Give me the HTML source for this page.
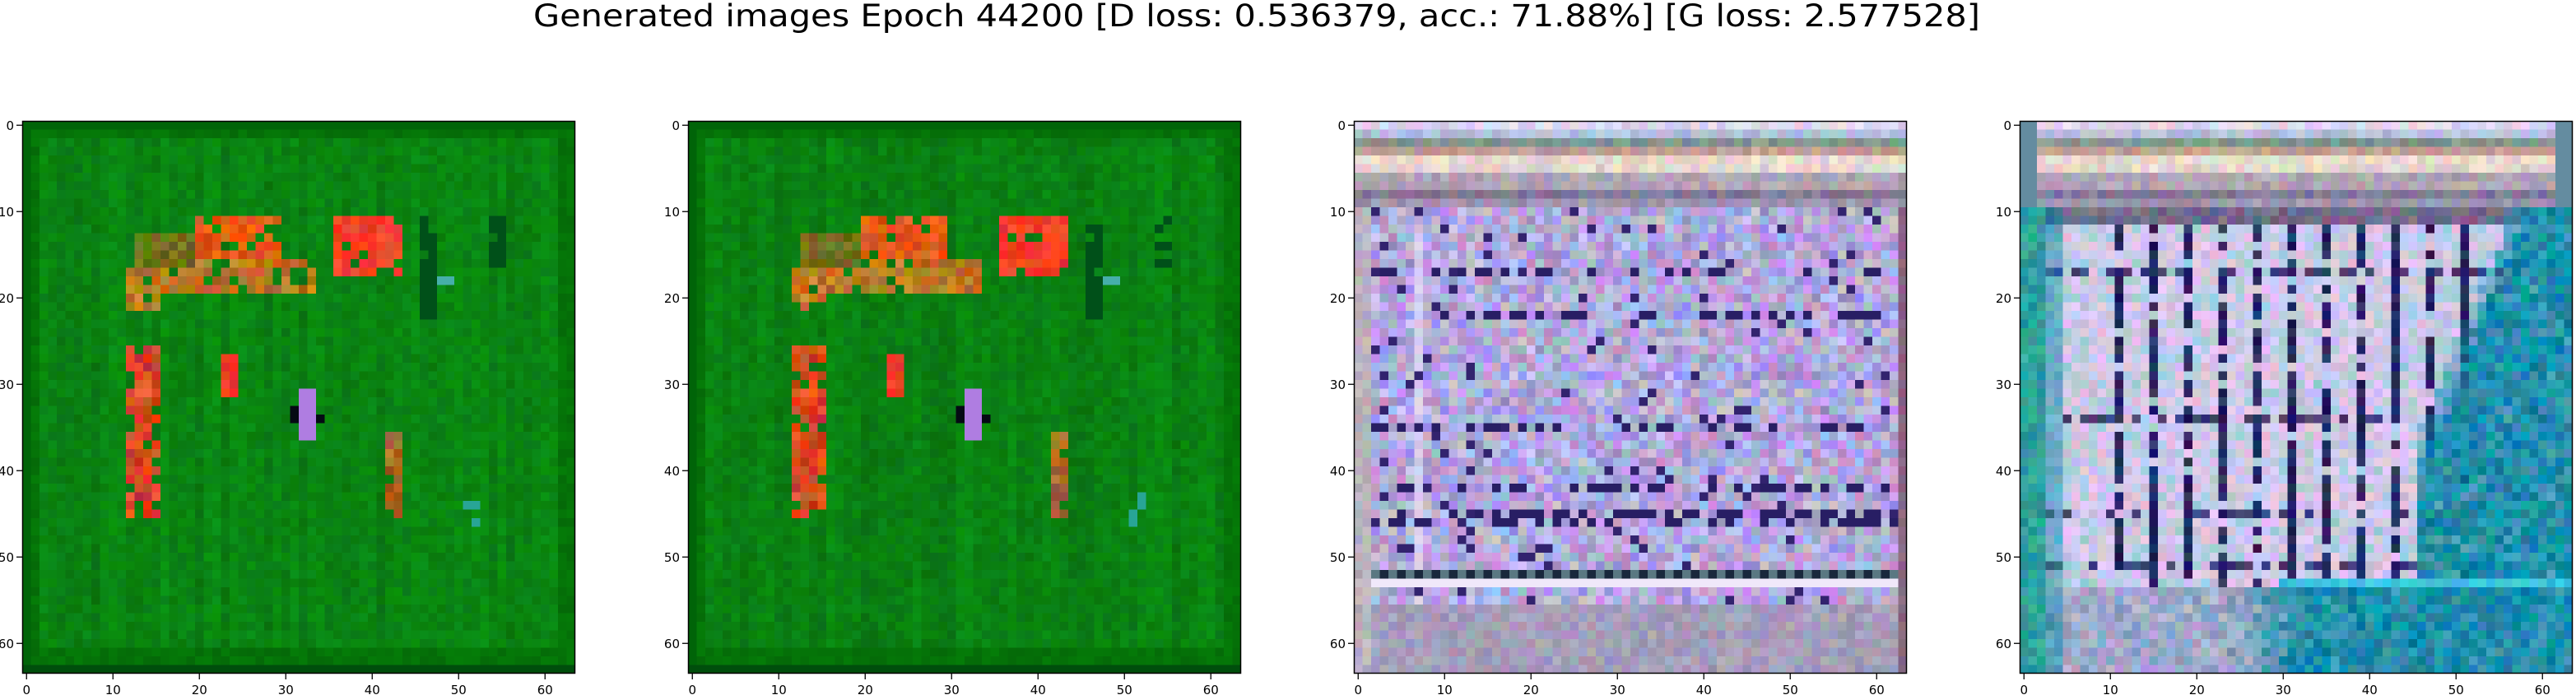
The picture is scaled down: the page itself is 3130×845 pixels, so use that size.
<!DOCTYPE html>
<html><head><meta charset="utf-8">
<style>
html,body{margin:0;padding:0;background:#fff;width:3130px;height:845px;overflow:hidden}
#wrap{position:relative;width:3130px;height:845px}
canvas{position:absolute;image-rendering:pixelated}
svg{position:absolute;left:0;top:0}
text{font-family:"DejaVu Sans","Liberation Sans",sans-serif;fill:#000}
</style></head>
<body>
<div id="wrap">
<canvas id="c0" width="64" height="64" style="left:27px;top:147px;width:672px;height:672px"></canvas>
<canvas id="c1" width="64" height="64" style="left:836px;top:147px;width:672px;height:672px"></canvas>
<canvas id="c2" width="64" height="64" style="left:1645px;top:147px;width:672px;height:672px"></canvas>
<canvas id="c3" width="64" height="64" style="left:2454px;top:147px;width:672px;height:672px"></canvas>
<svg id="ov" width="3130" height="845">
<text x="1527" y="32" font-size="37" text-anchor="middle" textLength="1758" lengthAdjust="spacingAndGlyphs">Generated images Epoch 44200 [D loss: 0.536379, acc.: 71.88%] [G loss: 2.577528]</text>
</svg>
</div>
<script>
const panelLefts = [27, 836, 1645, 2454];
const tickValues = [0, 10, 20, 30, 40, 50, 60];
const imgSize = 64;
const TOP = 147, SIZE = 672, CELL = SIZE / imgSize;

function h(x, y, k) {
  let n = (x * 374761393 + y * 668265263 + k * 2147483647) | 0;
  n = (n ^ (n >>> 13)) * 1274126177 | 0;
  n = n ^ (n >>> 16);
  return ((n >>> 0) % 1000) / 500 - 1;
}
function inR(r, c, r0, r1, c0, c1) { return r >= r0 && r <= r1 && c >= c0 && c <= c1; }
function vary(col, r, c, k, amt) {
  return [col[0] + h(r, c, k) * amt, col[1] + h(r, c, k + 1) * amt, col[2] + h(r, c, k + 2) * amt];
}
function mix(a, b, t) { return [a[0] + (b[0] - a[0]) * t, a[1] + (b[1] - a[1]) * t, a[2] + (b[2] - a[2]) * t]; }

function greenPanel(r, c, v) {
  const colStreak = h(0, c, v + 20) * 10;
  let base = [10, 130 + colStreak + h(r, c, v) * 12, 18 + h(r, c, v + 5) * 10];
  if (r <= 1 || r >= 61 || c <= 1 || c >= 62) base = [5, 115 + h(r, c, v) * 10, 8];
  if (r === 0 || c === 0) base = [0, 100, 8];
  if (r === 63) base = [0, 78, 12];
  const fuzz = h(r, c, v + 30) > -0.75;
  if (fuzz && inR(r, c, 11, 17, 20, 29)) base = vary([232, 92, 22], r, c, v + 9, 30);
  if (fuzz && inR(r, c, 11, 17, 36, 43)) base = vary([245, 62, 40], r, c, v + 9, 25);
  if (fuzz && (inR(r, c, 17, 21, 12, 15) || inR(r, c, 16, 19, 16, 33))) base = vary([190, 120, 35], r, c, v + 9, 35);
  if (inR(r, c, 13, 16, 13, 19)) base = vary([110, 110, 25], r, c, v + 9, 30);
  if (fuzz && inR(r, c, 26, 45, 12, 15)) base = vary([215, 70, 35], r, c, v + 9, 35);
  if (inR(r, c, 27, 31, 23, 24)) base = vary([240, 55, 35], r, c, v + 9, 20);
  if (inR(r, c, 31, 36, 32, 33)) base = [175, 125, 225];
  if (inR(r, c, 33, 34, 31, 31) || inR(r, c, 34, 34, 34, 34)) base = [5, 10, 20];
  if (fuzz && inR(r, c, 36, 45, 42, 43)) base = vary([170, 105, 40], r, c, v + 9, 30);
  if (inR(r, c, 18, 18, 48, 49)) base = [70, 175, 170];
  if (inR(r, c, 43, 46, 51, 52) && h(r, c, v + 31) > 0) base = [40, 165, 150];
  if ((inR(r, c, 11, 22, 46, 47) || inR(r, c, 11, 16, 54, 55)) && h(r, c, v + 32) > -0.4) base = [0, 80, 25];
  return base;
}
function topRows(r, c, v) {
  const rows = [[225,215,240],[180,190,220],[130,150,140],[195,160,150],[232,220,205],[228,215,205],[175,165,180],[180,165,180],[130,120,150],[160,150,175]];
  return vary(rows[r], r, c, v, 22);
}
function lavPanel(r, c) {
  if (r <= 9) return topRows(r, c, 30);
  let base = vary([178, 168, 220], r, c, 40, 38);
  if (c <= 1) base = vary([185, 178, 190], r, c, 41, 20);
  else if (c === 63) base = vary([140, 100, 130], r, c, 42, 15);
  else if (r >= 56) base = vary([165, 158, 185], r, c, 43, 20);
  else if (r === 53) base = [240, 232, 250];
  else if (r === 52) base = (c % 2) ? [25, 40, 60] : [90, 120, 130];
  else if ((r === 17 || r === 22 || r === 35 || r === 45 || r === 46 || r === 42) && h(r, c, 45) > 0.3) base = [40, 30, 100];
  else if (h(r, c, 44) > 0.93) base = [50, 35, 110];
  else if (c === 7 && r > 12) base = vary([215, 205, 240], r, c, 46, 15);
  return base;
}
function tealPanel(r, c) {
  if (r <= 9) {
    let t = topRows(r, c, 60);
    if (c <= 1 || c >= 62) t = [100, 140, 160];
    return t;
  }
  const teal = vary([20, 140, 168], r, c, 62, 30);
  if (c <= 2) return vary([45, 160, 155], r, c, 61, 25);
  let lav = vary([215, 208, 235], r, c, 68, 28);
  if (r === 10 || r === 11) lav = vary([120, 105, 135], r, c, 64, 25);
  else if (r >= 54) lav = vary([170, 170, 205], r, c, 63, 28);
  else if (c >= 11 && c <= 51 && c % 4 === 3 && h(r, c, 65) > -0.6) lav = vary([40, 32, 90], r, c, 66, 25);
  else if ((r === 17 || r === 34 || r === 45 || r === 51) && h(r, c, 66) > 0.1) lav = vary([70, 60, 115], r, c, 67, 25);
  if (c === 3 || c === 4) lav = mix(lav, teal, 0.5);
  let t = 0;
  const edge = 22 - (c - 52) * 1.3;
  if (c >= 46) t = Math.max(t, Math.min(1, (r - edge) / 8 + (c - 49) / 7));
  if (r >= 54) t = Math.max(t, Math.min(1, (c - 24) / 8));
  t = Math.max(0, Math.min(1, t + h(r, c, 69) * 0.3));
  if (r === 53 && c >= 30) return vary([60, 195, 225], r, c, 70, 20);
  return mix(lav, teal, t);
}

const fns = [
  (r, c) => greenPanel(r, c, 1),
  (r, c) => greenPanel(r, c, 2),
  lavPanel,
  tealPanel
];
fns.forEach((fn, i) => {
  const ctx = document.getElementById('c' + i).getContext('2d');
  const im = ctx.createImageData(imgSize, imgSize);
  for (let r = 0; r < imgSize; r++) for (let c = 0; c < imgSize; c++) {
    const col = fn(r, c), o = (r * imgSize + c) * 4;
    im.data[o] = col[0]; im.data[o + 1] = col[1]; im.data[o + 2] = col[2]; im.data[o + 3] = 255;
  }
  ctx.putImageData(im, 0, 0);
});

const svg = document.getElementById('ov');
const NS = 'http://www.w3.org/2000/svg';
function mk(tag, attrs) { const e = document.createElementNS(NS, tag); for (const k in attrs) e.setAttribute(k, attrs[k]); svg.appendChild(e); return e; }
panelLefts.forEach((L, p) => {
  const frame = mk('rect', {x: L + 0.5, y: TOP + 0.5, width: SIZE - 1, height: SIZE - 1, fill: 'none', stroke: '#000', 'stroke-width': 1.5});
  
  
  tickValues.forEach(v => {
    const pos = (v + 0.5) * CELL;
    const xt = mk('line', {x1: L + pos, x2: L + pos, y1: TOP + SIZE, y2: TOP + SIZE + 7, stroke: '#000', 'stroke-width': 1.3});
    
    
    const xl = mk('text', {x: L + pos, y: 844, 'font-size': 15, 'text-anchor': 'middle'});
    xl.textContent = v;
    
    
    const yt = mk('line', {x1: L - 7, x2: L, y1: TOP + pos, y2: TOP + pos, stroke: '#000', 'stroke-width': 1.3});
    
    
    const yl = mk('text', {x: L - 10, y: TOP + pos + 5.5, 'font-size': 15, 'text-anchor': 'end'});
    yl.textContent = v;
    
    
  });
});
</script>
</body></html>
